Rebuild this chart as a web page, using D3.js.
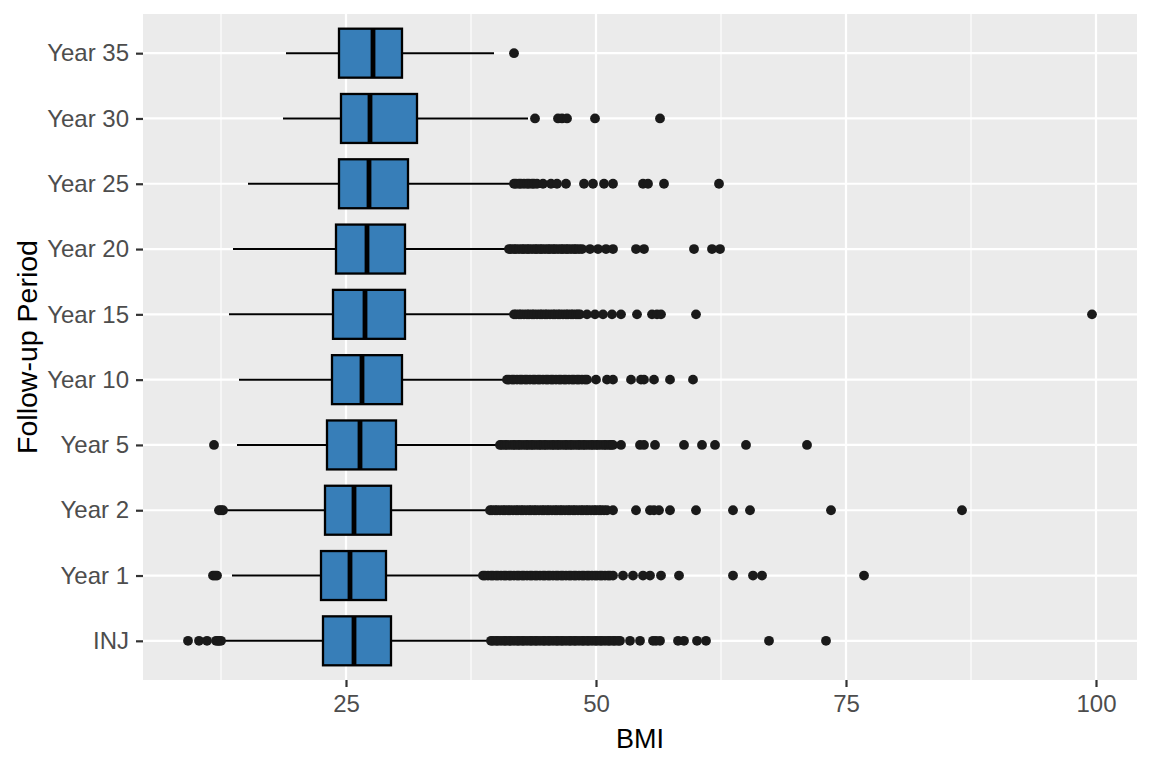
<!DOCTYPE html>
<html>
<head>
<meta charset="utf-8">
<script src="https://cdn.jsdelivr.net/npm/d3@7"></script>
<style>
  html, body { margin: 0; padding: 0; background: #ffffff; }
  svg { display: block; font-family: "Liberation Sans", Arial, sans-serif; }
</style>
</head>
<body>
<svg id="chart" width="1152" height="768"></svg>
<script>
// ---- data ----
const categories = ["INJ", "Year 1", "Year 2", "Year 5", "Year 10", "Year 15", "Year 20", "Year 25", "Year 30", "Year 35"];
const whiskerLow  = [12.9, 13.6, 13.1, 14.1, 14.3, 13.3, 13.7, 15.2, 18.7, 19.0];
const q1          = [22.7, 22.5, 22.9, 23.1, 23.6, 23.7, 24.0, 24.3, 24.5, 24.3];
const medians     = [25.8, 25.4, 25.8, 26.4, 26.6, 26.9, 27.1, 27.3, 27.4, 27.7];
const q3          = [29.5, 29.0, 29.5, 30.0, 30.6, 30.9, 30.9, 31.2, 32.1, 30.6];
const whiskerHigh = [39.2, 38.4, 39.2, 40.2, 40.9, 41.6, 41.1, 41.6, 43.2, 39.8];
const outliers = [
  // INJ
  [9.2, 10.3, 11.1, 12.0, 12.2, 12.3, 12.5,
   39.5, 39.7, 40.0, 40.2, 40.5, 40.8, 41.0, 41.3, 41.5, 41.8, 42.1, 42.3, 42.6, 42.8, 43.1, 43.4, 43.6, 43.9, 44.1,
   44.4, 44.7, 44.9, 45.2, 45.4, 45.7, 46.0, 46.2, 46.5, 46.7, 47.0, 47.3, 47.5, 47.8, 48.0, 48.3, 48.6, 48.8, 49.1,
   49.3, 49.6, 49.9, 50.1, 50.4, 50.6, 50.9, 51.2, 51.4, 51.7, 51.9, 52.2, 52.4,
   53.4, 54.4, 55.7, 56.0, 56.4, 58.2, 58.8, 60.1, 61.0, 67.3, 73.0],
  // Year 1
  [11.7, 11.9, 12.1,
   38.7, 38.9, 39.2, 39.5, 39.7, 40.0, 40.2, 40.5, 40.8, 41.0, 41.3, 41.5, 41.8, 42.1, 42.3, 42.6, 42.8, 43.1, 43.4,
   43.6, 43.9, 44.1, 44.4, 44.7, 44.9, 45.2, 45.4, 45.7, 46.0, 46.2, 46.5, 46.7, 47.0, 47.3, 47.5, 47.8, 48.0, 48.3,
   48.6, 48.8, 49.1, 49.3, 49.6, 49.9, 50.1, 50.4, 50.6, 50.9, 51.2, 51.4, 51.7,
   52.7, 53.7, 54.7, 55.4, 56.5, 58.3, 63.7, 65.7, 66.6, 76.8],
  // Year 2
  [12.3, 12.5, 12.7,
   39.4, 39.6, 39.9, 40.1, 40.4, 40.7, 40.9, 41.2, 41.4, 41.7, 42.0, 42.2, 42.5, 42.7, 43.0, 43.3, 43.5, 43.8, 44.0,
   44.3, 44.6, 44.8, 45.1, 45.3, 45.6, 45.9, 46.1, 46.4, 46.6, 46.9, 47.2, 47.4, 47.7, 47.9, 48.2, 48.5, 48.7, 49.0,
   49.2, 49.5, 49.8, 50.0, 50.3, 50.5, 50.8, 51.1,
   51.7, 54.0, 55.4, 55.8, 56.3, 57.4, 60.0, 63.7, 65.4, 73.5, 86.6],
  // Year 5
  [11.8,
   40.4, 40.6, 40.9, 41.1, 41.4, 41.7, 41.9, 42.2, 42.4, 42.7, 43.0, 43.2, 43.5, 43.7, 44.0, 44.3, 44.5, 44.8, 45.0,
   45.3, 45.6, 45.8, 46.1, 46.3, 46.6, 46.9, 47.1, 47.4, 47.6, 47.9, 48.2, 48.4, 48.7, 48.9, 49.2, 49.5, 49.7, 50.0,
   50.2, 50.5, 50.8, 51.0, 51.3, 51.5, 51.7,
   52.5, 54.4, 54.8, 55.9, 58.8, 60.6, 61.9, 65.0, 71.1],
  // Year 10
  [41.1, 41.3, 41.6, 41.8, 42.1, 42.4, 42.6, 42.9, 43.1, 43.4, 43.7, 43.9, 44.2, 44.4, 44.7, 45.0, 45.2, 45.5, 45.7,
   46.0, 46.3, 46.5, 46.8, 47.0, 47.3, 47.6, 47.8, 48.1, 48.3, 48.6, 48.9, 49.1,
   50.0, 51.1, 51.7, 53.5, 54.5, 54.8, 55.8, 57.4, 59.7],
  // Year 15
  [41.8, 42.0, 42.3, 42.5, 42.8, 43.1, 43.3, 43.6, 43.8, 44.1, 44.4, 44.6, 44.9, 45.1, 45.4, 45.7, 45.9, 46.2, 46.4,
   46.7, 47.0, 47.2, 47.5, 47.7, 48.0, 48.2, 48.4,
   49.1, 49.9, 50.7, 51.6, 52.5, 54.1, 55.6, 56.1, 56.5, 60.0, 99.6],
  // Year 20
  [41.3, 41.5, 41.8, 42.0, 42.3, 42.6, 42.8, 43.1, 43.3, 43.6, 43.9, 44.1, 44.4, 44.6, 44.9, 45.2, 45.4, 45.7, 45.9,
   46.2, 46.5, 46.7, 47.0, 47.2, 47.5, 47.8, 48.0, 48.3, 48.6,
   49.4, 50.2, 51.0, 51.7, 54.0, 54.8, 59.8, 61.6, 62.4],
  // Year 25
  [41.8, 42.0, 42.3, 42.5, 42.8, 43.1, 43.3, 43.6, 43.8, 44.1,
   44.7, 45.5, 46.1, 47.0, 48.8, 49.7, 50.8, 51.7, 54.7, 55.2, 56.8, 62.3],
  // Year 30
  [43.9, 46.2, 46.6, 47.1, 49.9, 56.4],
  // Year 35
  [41.8]
];
const xTicks = [25, 50, 75, 100];
const xMinorTicks = [12.5, 37.5, 62.5, 87.5];
const xTitle = "BMI";
const yTitle = "Follow-up Period";

// ---- layout ----
const svg = d3.select("#chart");
const panel = { left: 143, right: 1137, top: 14, bottom: 680 };

const x = d3.scaleLinear().domain([4.7, 104.1]).range([panel.left, panel.right]);
const y = d3.scalePoint().domain(categories).range([panel.bottom, panel.top]).padding(0.6);
const boxH = y.step() * 0.75;

// panel background
svg.append("rect")
  .attr("x", panel.left).attr("y", panel.top)
  .attr("width", panel.right - panel.left).attr("height", panel.bottom - panel.top)
  .attr("fill", "#EBEBEB");

// minor gridlines
svg.append("g").selectAll("line").data(xMinorTicks).join("line")
  .attr("x1", d => x(d)).attr("x2", d => x(d))
  .attr("y1", panel.top).attr("y2", panel.bottom)
  .attr("stroke", "#ffffff").attr("stroke-width", 1.1);

// major gridlines
svg.append("g").selectAll("line").data(xTicks).join("line")
  .attr("x1", d => x(d)).attr("x2", d => x(d))
  .attr("y1", panel.top).attr("y2", panel.bottom)
  .attr("stroke", "#ffffff").attr("stroke-width", 2.2);
svg.append("g").selectAll("line").data(categories).join("line")
  .attr("x1", panel.left).attr("x2", panel.right)
  .attr("y1", d => y(d)).attr("y2", d => y(d))
  .attr("stroke", "#ffffff").attr("stroke-width", 2.2);

// boxplots
const rows = categories.map((c, i) => ({
  cat: c, lo: whiskerLow[i], q1: q1[i], med: medians[i], q3: q3[i], hi: whiskerHigh[i], out: outliers[i]
}));

const g = svg.append("g");
// whiskers
g.selectAll("line.wlo").data(rows).join("line").attr("class", "wlo")
  .attr("x1", d => x(d.lo)).attr("x2", d => x(d.q1))
  .attr("y1", d => y(d.cat)).attr("y2", d => y(d.cat))
  .attr("stroke", "#000").attr("stroke-width", 2);
g.selectAll("line.whi").data(rows).join("line").attr("class", "whi")
  .attr("x1", d => x(d.q3)).attr("x2", d => x(d.hi))
  .attr("y1", d => y(d.cat)).attr("y2", d => y(d.cat))
  .attr("stroke", "#000").attr("stroke-width", 2);

// outliers
rows.forEach(r => {
  g.append("g").selectAll("circle").data(r.out).join("circle")
    .attr("cx", d => x(d)).attr("cy", y(r.cat)).attr("r", 4.9)
    .attr("fill", "#1a1a1a");
});

// boxes
g.selectAll("rect.box").data(rows).join("rect").attr("class", "box")
  .attr("x", d => x(d.q1)).attr("width", d => x(d.q3) - x(d.q1))
  .attr("y", d => y(d.cat) - boxH / 2).attr("height", boxH)
  .attr("fill", "#377EB8").attr("stroke", "#000").attr("stroke-width", 2.3);
// medians
g.selectAll("line.med").data(rows).join("line").attr("class", "med")
  .attr("x1", d => x(d.med)).attr("x2", d => x(d.med))
  .attr("y1", d => y(d.cat) - boxH / 2).attr("y2", d => y(d.cat) + boxH / 2)
  .attr("stroke", "#000").attr("stroke-width", 4.8);

// x axis
const xAxis = svg.append("g")
  .attr("transform", `translate(0,${panel.bottom})`)
  .call(d3.axisBottom(x).tickValues(xTicks).tickSize(7).tickPadding(8).tickFormat(d3.format("d")));
xAxis.select(".domain").remove();
xAxis.selectAll("line").attr("stroke", "#333333").attr("stroke-width", 2.2);
xAxis.selectAll("text").attr("fill", "#4D4D4D").style("font-size", "24px")
  .style("font-family", "'Liberation Sans', Arial, sans-serif");

// y axis
const yAxis = svg.append("g")
  .attr("transform", `translate(${panel.left},0)`)
  .call(d3.axisLeft(y).tickSize(7).tickPadding(7));
yAxis.select(".domain").remove();
yAxis.selectAll("line").attr("stroke", "#333333").attr("stroke-width", 2.2);
yAxis.selectAll("text").attr("fill", "#4D4D4D").style("font-size", "24px")
  .style("font-family", "'Liberation Sans', Arial, sans-serif");

// titles
svg.append("text")
  .attr("x", (panel.left + panel.right) / 2).attr("y", 748)
  .attr("text-anchor", "middle").attr("fill", "#000")
  .style("font-size", "27px").text(xTitle);
svg.append("text")
  .attr("transform", `translate(37,${(panel.top + panel.bottom) / 2}) rotate(-90)`)
  .attr("text-anchor", "middle").attr("fill", "#000")
  .style("font-size", "28.5px").text(yTitle);
</script>
</body>
</html>
